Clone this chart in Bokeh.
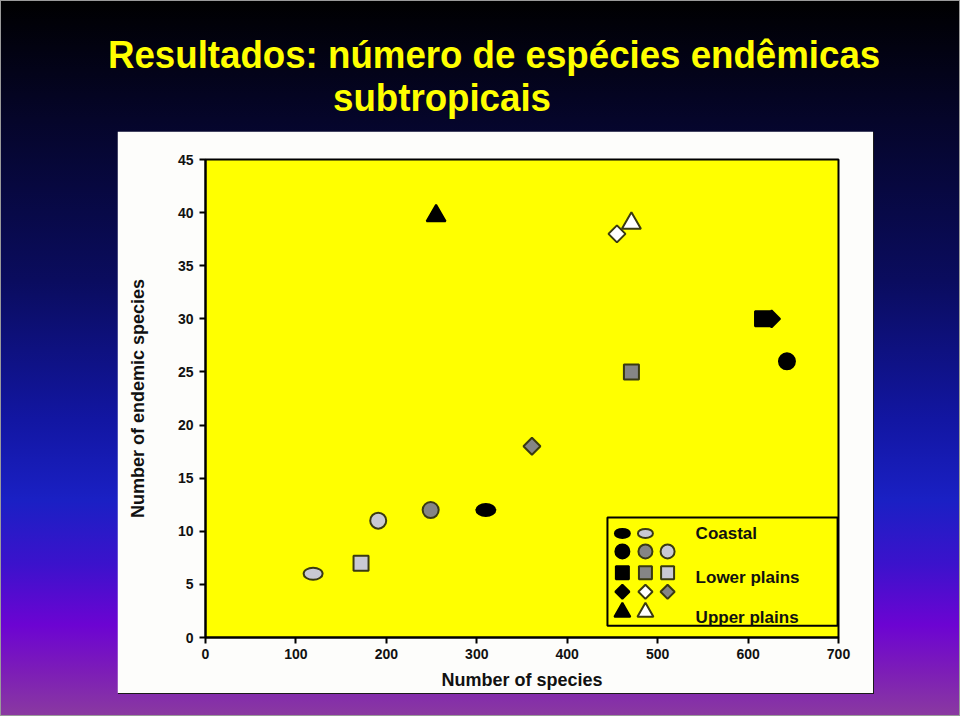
from bokeh.plotting import figure
from bokeh.models import Div, Range1d, FixedTicker, BoxAnnotation
from bokeh.layouts import column
from bokeh.embed import file_html
from bokeh.resources import INLINE
from bokeh.core.properties import value
import math

# ---------------- texts ----------------
TITLE_LINE1 = "Resultados: número de espécies endêmicas"
TITLE_LINE2 = "subtropicais"
X_LABEL = "Number of species"
Y_LABEL = "Number of endemic species"
X_TICKS = [0, 100, 200, 300, 400, 500, 600, 700]
Y_TICKS = [0, 5, 10, 15, 20, 25, 30, 35, 40, 45]
LEGEND_LABELS = ["Coastal", "Lower plains", "Upper plains"]

# ---------------- colours ----------------
BLACK = "#000000"
GREY = "#858585"
LIGHT = "#c9c9d3"
WHITE = "#ffffff"
EDGE = "#3a3a12"

# ---------------- data (number of species, number of endemic species) ----------------
ellipse_x = [310, 119]
ellipse_y = [12, 6]
ellipse_fill = [BLACK, LIGHT]

circle_x = [643, 249, 191]
circle_y = [26, 12, 11]
circle_fill = [BLACK, GREY, LIGHT]

square_x = [616, 471, 172]
square_y = [30, 25, 7]
square_fill = [BLACK, GREY, LIGHT]

diamond_x = [626, 455, 361]
diamond_y = [30, 38, 18]
diamond_fill = [BLACK, WHITE, GREY]

triangle_x = [255, 471]
triangle_y = [39.7, 39]
triangle_fill = [BLACK, WHITE]

# ---------------- legend layout (data units inside the plot) ----------------
LEG_COLS = [461, 486.5, 511]
LEG_ROWS = [9.8, 8.1, 6.1, 4.3, 2.4]
LEG_TEXT_X = 542
LEG_TEXT_Y = [9.8, 5.65, 1.85]
LEG_BOX = dict(left=444.5, right=699, bottom=1.1, top=11.3)

FONT = "Liberation Sans"


def edge_colors(fills):
    return [BLACK if f == BLACK else EDGE for f in fills]


p = figure(width=756, height=562, output_backend="svg", toolbar_location=None,
           x_range=Range1d(0, 700), y_range=Range1d(0, 45),
           min_border_left=88, min_border_right=35, min_border_top=28, min_border_bottom=56,
           background_fill_color="#ffff00", border_fill_color="#fdfdfb")
p.margin = (0, 0, 0, 117)
p.styles = {"box-shadow": "1px 1px 0 #1a1a1a"}
p.grid.visible = False
p.outline_line_color = BLACK
p.outline_line_width = 2

for ax in (p.xaxis[0], p.yaxis[0]):
    ax.axis_line_width = 2
    ax.axis_line_color = BLACK
    ax.major_tick_line_width = 2
    ax.major_tick_line_color = BLACK
    ax.major_tick_in = 0
    ax.major_tick_out = 6
    ax.minor_tick_line_color = None
    ax.major_label_text_font = FONT
    ax.major_label_text_font_style = "bold"
    ax.major_label_text_font_size = "14px"
    ax.major_label_text_color = "#111111"
    ax.axis_label_text_font = FONT
    ax.axis_label_text_font_style = "bold"
    ax.axis_label_text_font_size = "18px"
    ax.axis_label_text_color = "#111111"

p.xaxis[0].ticker = FixedTicker(ticks=X_TICKS)
p.yaxis[0].ticker = FixedTicker(ticks=Y_TICKS)
p.xaxis[0].axis_label = X_LABEL
p.yaxis[0].axis_label = Y_LABEL
p.xaxis[0].axis_label_standoff = 8
p.yaxis[0].axis_label_standoff = 27
p.yaxis[0].major_label_standoff = 6

# ---------------- data marks ----------------
p.scatter(triangle_x, triangle_y, marker="triangle", size=19,
          fill_color=triangle_fill, line_color=edge_colors(triangle_fill), line_width=2)
p.scatter(diamond_x, diamond_y, marker="square", angle=math.pi / 4, size=12,
          fill_color=diamond_fill, line_color=edge_colors(diamond_fill), line_width=2)
p.scatter(square_x, square_y, marker="square", size=15,
          fill_color=square_fill, line_color=edge_colors(square_fill), line_width=2)
p.scatter(circle_x, circle_y, marker="circle", size=16,
          fill_color=circle_fill, line_color=edge_colors(circle_fill), line_width=2)
p.ellipse(ellipse_x, ellipse_y, width=19, height=12, width_units="screen", height_units="screen",
          fill_color=ellipse_fill, line_color=edge_colors(ellipse_fill), line_width=2)

# ---------------- legend ----------------
p.add_layout(BoxAnnotation(fill_color="#ffff00", fill_alpha=1, line_color=BLACK, line_alpha=1,
                           line_width=2, level="underlay", **LEG_BOX))
p.ellipse(LEG_COLS[:2], [LEG_ROWS[0]] * 2, width=15, height=9, width_units="screen",
          height_units="screen", fill_color=ellipse_fill, line_color=edge_colors(ellipse_fill), line_width=2)
p.scatter(LEG_COLS, [LEG_ROWS[1]] * 3, marker="circle", size=14,
          fill_color=circle_fill, line_color=edge_colors(circle_fill), line_width=2)
p.scatter(LEG_COLS, [LEG_ROWS[2]] * 3, marker="square", size=13,
          fill_color=square_fill, line_color=edge_colors(square_fill), line_width=2)
p.scatter(LEG_COLS, [LEG_ROWS[3]] * 3, marker="square", angle=math.pi / 4, size=10,
          fill_color=diamond_fill, line_color=edge_colors(diamond_fill), line_width=2)
p.scatter(LEG_COLS[:2], [LEG_ROWS[4]] * 2, marker="triangle", size=16,
          fill_color=triangle_fill, line_color=edge_colors(triangle_fill), line_width=2)
p.text([LEG_TEXT_X] * 3, LEG_TEXT_Y, text=LEGEND_LABELS, text_baseline="middle",
       text_font=value(FONT), text_font_style="bold", text_font_size="17px", text_color="#111111")

# ---------------- title ----------------
title_style = ("position:absolute;white-space:nowrap;color:#ffff00;font-family:'Liberation Sans',Arial,sans-serif;"
               "font-weight:bold;font-size:39px;line-height:39px;transform:scaleX(0.94);transform-origin:0 0;")
title_html = (
    '<div style="position:relative;width:960px;height:131px;">'
    f'<div style="{title_style}left:108px;top:35px;">{TITLE_LINE1}</div>'
    f'<div style="{title_style}left:333px;top:78px;">{TITLE_LINE2}</div>'
    '</div>'
)
title = Div(text=title_html, width=960, height=131, margin=0)

layout = column(title, p, width=960, height=716, spacing=0,
                styles={"background": "linear-gradient(to bottom, #000000 0px, #05052a 120px, #0a0c5e 280px, "
                                       "#1216a2 420px, #1a20c4 500px, #3c12cc 565px, #6c04d2 625px, "
                                       "#7c1cb8 670px, #8a3aa0 716px)",
                        "box-shadow": "inset 0 0 0 1px #9a9a9a"})

with open("out.html", "w") as f:
    f.write(file_html(layout, INLINE))
